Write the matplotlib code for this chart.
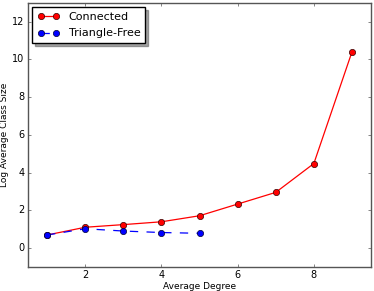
import matplotlib
matplotlib.use("Agg")
import matplotlib.pyplot as plt

plt.style.use("classic")

conn_x = [1, 2, 3, 4, 5, 6, 7, 8, 9]
conn_y = [0.69, 1.10, 1.24, 1.39, 1.71, 2.33, 2.95, 4.48, 10.4]
tf_x = [1, 2, 3, 4, 5]
tf_y = [0.69, 1.02, 0.90, 0.82, 0.78]

fig = plt.figure(figsize=(3.74, 2.91), dpi=100)
ax = fig.add_axes([0.075, 0.083, 0.917, 0.907])
ax.plot(conn_x, conn_y, "r-o", lw=0.9, ms=4.5, mec="#330000", mew=0.5, label="Connected")
ax.plot(tf_x, tf_y, "b--o", lw=0.9, ms=4.5, mec="#000033", mew=0.5, label="Triangle-Free")
ax.set_xlim(0.5, 9.5)
ax.set_ylim(-1, 13)
ax.set_xticks([2, 4, 6, 8])
ax.set_yticks([0, 2, 4, 6, 8, 10, 12])
ax.tick_params(labelsize=7, length=2.5, pad=2.5, color="#555555")
for s in ax.spines.values():
    s.set_color("#555555")
ax.set_xlabel("Average Degree", fontsize=6.5, labelpad=1)
ax.set_ylabel("Log Average Class Size", fontsize=6.5, labelpad=2)
leg = ax.legend(loc="upper left", fontsize=8, shadow=True, numpoints=2,
                borderaxespad=0.4, handlelength=2.0, labelspacing=0.55,
                borderpad=0.45, handletextpad=0.8)
fig.savefig("out.png", dpi=100)
